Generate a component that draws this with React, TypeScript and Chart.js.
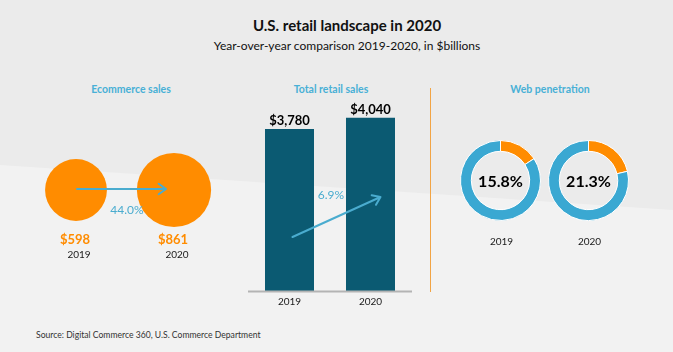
import React, { useEffect, useRef } from 'react';
import { Chart, registerables } from 'chart.js';

Chart.register(...registerables);

// ---------- data ----------
const years = ['2019', '2020'];
const ecommerceSales = [598, 861];
const totalRetailSales = [3780, 4040];
const webPenetration = [15.8, 21.3];

const titleText = 'U.S. retail landscape in 2020';
const subtitleText = 'Year-over-year comparison 2019-2020, in $billions';
const sectionTitles = ['Ecommerce sales', 'Total retail sales', 'Web penetration'];
const sourceText = 'Source: Digital Commerce 360, U.S. Commerce Department';

// ---------- styles ----------
const FONT = 'Lato, "Noto Sans", sans-serif';
const BLUE = '#3aa8d2';
const ARROW = '#4aaccf';
const ORANGE = '#ff8c00';
const TEAL = '#0b5a72';
const HEAD = '#48b0d6';
const DARK = '#1a1a1a';

const fmtMoney = (v: number) => '$' + v.toLocaleString('en-US');
const growth = (a: number, b: number) => ((b / a - 1) * 100).toFixed(1) + '%';

function drawArrow(ctx: CanvasRenderingContext2D, x1: number, y1: number, x2: number, y2: number) {
  const a = Math.atan2(y2 - y1, x2 - x1);
  const h = 9;
  const s = 0.62;
  ctx.save();
  ctx.strokeStyle = ARROW;
  ctx.lineWidth = 2;
  ctx.lineCap = 'round';
  ctx.lineJoin = 'round';
  ctx.beginPath();
  ctx.moveTo(x1, y1);
  ctx.lineTo(x2, y2);
  ctx.moveTo(x2 - h * Math.cos(a - s), y2 - h * Math.sin(a - s));
  ctx.lineTo(x2, y2);
  ctx.lineTo(x2 - h * Math.cos(a + s), y2 - h * Math.sin(a + s));
  ctx.stroke();
  ctx.restore();
}

function text(ctx: CanvasRenderingContext2D, s: string, x: number, y: number, font: string, color: string) {
  ctx.save();
  ctx.font = font;
  ctx.fillStyle = color;
  ctx.textAlign = 'center';
  ctx.textBaseline = 'middle';
  ctx.fillText(s, x, y);
  ctx.restore();
}

// ---------- Ecommerce bubbles ----------
const EcomChart = () => {
  const ref = useRef<HTMLCanvasElement>(null);
  useEffect(() => {
    const chart = new Chart(ref.current!, {
      type: 'bubble',
      data: {
        datasets: [
          {
            data: ecommerceSales.map((v, i) => ({ x: i, y: 0, r: 1.265 * Math.sqrt(v) })),
            backgroundColor: ORANGE,
            borderWidth: 0,
            hoverRadius: 0,
          },
        ],
      },
      options: {
        responsive: false,
        maintainAspectRatio: false,
        animation: false,
        events: [],
        layout: { padding: 0, autoPadding: false },
        plugins: { legend: { display: false }, tooltip: { enabled: false } },
        scales: {
          x: { type: 'linear', display: false, min: -0.7755, max: 1.7755 },
          y: { type: 'linear', display: false, min: -1, max: 1 },
        },
      },
      plugins: [
        {
          id: 'ecomLabels',
          afterDatasetsDraw(c: any) {
            const ctx = c.ctx;
            const pts = c.getDatasetMeta(0).data;
            drawArrow(ctx, pts[0].x + 1, pts[0].y - 1, pts[1].x - 8, pts[1].y - 1);
            text(ctx, growth(ecommerceSales[0], ecommerceSales[1]), (pts[0].x + pts[1].x) / 2 + 2, pts[0].y + 20, `12px ${FONT}`, ARROW);
            pts.forEach((p: any, i: number) => {
              text(ctx, fmtMoney(ecommerceSales[i]), p.x - 1, 140, `bold 13px ${FONT}`, ORANGE);
              text(ctx, years[i], p.x + 3, 155, `10px ${FONT}`, DARK);
            });
          },
        },
      ],
    } as any);
    return () => chart.destroy();
  }, []);
  return (
    <canvas ref={ref} width={250} height={180} style={{ position: 'absolute', left: 0, top: 100, width: 250, height: 180 }} />
  );
};

// ---------- Total retail bars ----------
const RetailChart = () => {
  const ref = useRef<HTMLCanvasElement>(null);
  useEffect(() => {
    const chart = new Chart(ref.current!, {
      type: 'bar',
      data: {
        labels: years,
        datasets: [
          {
            data: totalRetailSales,
            backgroundColor: TEAL,
            borderWidth: 0,
            barPercentage: 0.605,
            categoryPercentage: 1,
          },
        ],
      },
      options: {
        responsive: false,
        maintainAspectRatio: false,
        animation: false,
        events: [],
        layout: { padding: { left: 9, right: 19, top: 8, bottom: 24 } },
        plugins: { legend: { display: false }, tooltip: { enabled: false } },
        scales: {
          x: { display: false },
          y: { display: false, min: 0, max: 4500 },
        },
      },
      plugins: [
        {
          id: 'retailLabels',
          afterDatasetsDraw(c: any) {
            const ctx = c.ctx;
            const area = c.chartArea;
            const bars = c.getDatasetMeta(0).data;
            const base = c.scales.y.getPixelForValue(0);
            ctx.save();
            ctx.strokeStyle = '#b4b4b4';
            ctx.lineWidth = 2;
            ctx.beginPath();
            ctx.moveTo(area.left - 1, base + 0.5);
            ctx.lineTo(area.right + 1, base + 0.5);
            ctx.stroke();
            ctx.restore();
            bars.forEach((b: any, i: number) => {
              text(ctx, fmtMoney(totalRetailSales[i]), b.x, b.y - 8, `bold 13px ${FONT}`, '#000');
              text(ctx, years[i], b.x, base + 11, `10px ${FONT}`, DARK);
            });
            drawArrow(ctx, bars[0].x + 3, base - 54, bars[1].x + 10, base - 94);
            text(ctx, growth(totalRetailSales[0], totalRetailSales[1]), (bars[0].x + bars[1].x) / 2 + 1, base - 96, `12px ${FONT}`, ARROW);
          },
        },
      ],
    } as any);
    return () => chart.destroy();
  }, []);
  return (
    <canvas ref={ref} width={190} height={225} style={{ position: 'absolute', left: 240, top: 90, width: 190, height: 225 }} />
  );
};

// ---------- Web penetration doughnuts ----------
const Donut = ({ index, left }: { index: number; left: number }) => {
  const ref = useRef<HTMLCanvasElement>(null);
  useEffect(() => {
    const v = webPenetration[index];
    const chart = new Chart(ref.current!, {
      type: 'doughnut',
      data: {
        labels: ['Web', 'Other'],
        datasets: [
          {
            data: [v, 100 - v],
            backgroundColor: [ORANGE, BLUE],
            borderColor: '#ffffff',
            borderWidth: 1,
          },
        ],
      },
      options: {
        responsive: false,
        maintainAspectRatio: false,
        animation: false,
        events: [],
        cutout: '73%',
        layout: { padding: { bottom: 29 } },
        plugins: { legend: { display: false }, tooltip: { enabled: false } },
      },
      plugins: [
        {
          id: 'donutLabels',
          afterDatasetsDraw(c: any) {
            const ctx = c.ctx;
            const arc = c.getDatasetMeta(0).data[0];
            text(ctx, v.toFixed(1) + '%', arc.x, arc.y + 1, `bold 16px ${FONT}`, '#000');
            text(ctx, years[index], arc.x + 1, 102, `10px ${FONT}`, DARK);
          },
        },
      ],
    } as any);
    return () => chart.destroy();
  }, [index]);
  return (
    <canvas ref={ref} width={81} height={110} style={{ position: 'absolute', left, top: 140, width: 81, height: 110 }} />
  );
};

const Label = ({ cx, cy, size, weight, color, children }: any) => (
  <div
    style={{
      position: 'absolute',
      left: cx - 200,
      width: 400,
      top: cy - size / 2,
      height: size,
      lineHeight: `${size}px`,
      fontSize: size,
      fontWeight: weight,
      color,
      textAlign: 'center',
      fontFamily: FONT,
      whiteSpace: 'nowrap',
    }}
  >
    {children}
  </div>
);

export default function App() {
  return (
    <div
      style={{
        position: 'fixed',
        left: 0,
        top: 0,
        width: 673,
        height: 352,
        overflow: 'hidden',
        background: '#ebebeb',
        fontFamily: FONT,
      }}
    >
      <div
        style={{
          position: 'absolute',
          left: 0,
          top: 0,
          width: 673,
          height: 352,
          background: '#f2f2f2',
          clipPath: 'polygon(0px 165px, 673px 210px, 673px 352px, 0px 352px)',
        }}
      />
      <Label cx={347} cy={25} size={15} weight={700} color="#111">{titleText}</Label>
      <Label cx={347} cy={46} size={12} weight={400} color="#111">{subtitleText}</Label>
      <Label cx={131} cy={89} size={10.5} weight={700} color={HEAD}>{sectionTitles[0]}</Label>
      <Label cx={331} cy={89} size={10.5} weight={700} color={HEAD}>{sectionTitles[1]}</Label>
      <Label cx={550} cy={89} size={10.5} weight={700} color={HEAD}>{sectionTitles[2]}</Label>
      <div style={{ position: 'absolute', left: 430, top: 88, width: 1, height: 204, background: '#f2a444' }} />
      <EcomChart />
      <RetailChart />
      <Donut index={0} left={460} />
      <Donut index={1} left={548} />
      <div
        style={{
          position: 'absolute',
          left: 36,
          top: 330,
          fontSize: 8.6,
          lineHeight: '10px',
          color: '#333',
          fontFamily: FONT,
          whiteSpace: 'nowrap',
        }}
      >
        {sourceText}
      </div>
    </div>
  );
}
